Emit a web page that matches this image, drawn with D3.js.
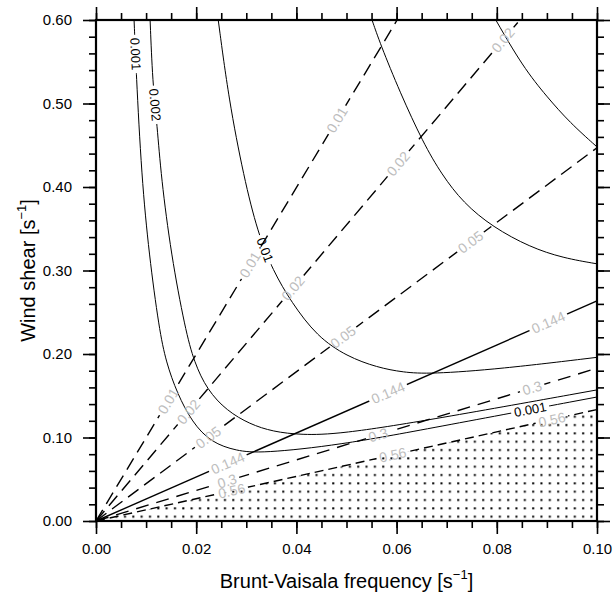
<!DOCTYPE html>
<html>
<head>
<meta charset="utf-8">
<script src="https://cdn.jsdelivr.net/npm/d3@7"></script>
<style>
  body { margin: 0; background: #fff; }
  svg { font-family: "Liberation Sans", Arial, Helvetica, sans-serif; }
</style>
</head>
<body>
<div id="chart"></div>
<script>
// axis ticks
const xTicks = [0, 0.02, 0.04, 0.06, 0.08, 0.10];
const yTicks = [0, 0.1, 0.2, 0.3, 0.4, 0.5, 0.6];

// Richardson number lines from the origin (N, S end points)
const riLevels = ['0.01', '0.02', '0.05', '0.144', '0.3', '0.56'];
const riEndN = [0.0601, 0.0846, 0.1, 0.1, 0.1, 0.1];
const riEndS = [0.6, 0.6, 0.447, 0.2635, 0.183, 0.1335];
const riLabelN = [
  [0.0144, 0.0307, 0.0481],
  [0.0184, 0.0393, 0.0603, 0.0812],
  [0.0224, 0.0493, 0.0747],
  [0.0263, 0.0583, 0.0902],
  [0.0261, 0.0563, 0.0870],
  [0.0271, 0.0593, 0.0910]
];

// solid contours, [N, S]
const curve001 = [[0.0076, 0.600], [0.0080, 0.540], [0.0091, 0.412], [0.0106, 0.319], [0.0126, 0.230],
  [0.0140, 0.190], [0.0162, 0.153], [0.0192, 0.118], [0.0230, 0.094], [0.0280, 0.084], [0.0330, 0.081],
  [0.0487, 0.091], [0.0667, 0.111], [0.1000, 0.1485]];
const curve002 = [[0.0108, 0.600], [0.0113, 0.525], [0.0122, 0.474], [0.0130, 0.412], [0.0150, 0.319],
  [0.0178, 0.230], [0.0196, 0.190], [0.0222, 0.157], [0.0261, 0.132], [0.0307, 0.116], [0.0353, 0.107],
  [0.0410, 0.103], [0.0487, 0.104], [0.0667, 0.121], [0.1000, 0.157]];
const curve01 = [[0.0244, 0.600], [0.0265, 0.505], [0.0295, 0.412], [0.0323, 0.345], [0.0353, 0.300],
  [0.0390, 0.262], [0.0441, 0.221], [0.0501, 0.197], [0.0561, 0.184], [0.0613, 0.178], [0.0667, 0.176],
  [0.0806, 0.182], [0.1000, 0.196]];
const curveD = [[0.0551, 0.600], [0.0567, 0.572], [0.0607, 0.513], [0.0653, 0.453], [0.0690, 0.415],
  [0.0733, 0.381], [0.0792, 0.352], [0.0866, 0.328], [0.0932, 0.315], [0.1000, 0.308]];
const curveE = [[0.0798, 0.600], [0.0852, 0.544], [0.0900, 0.508], [0.0946, 0.477], [0.1000, 0.448]];

const contours = [curve001, curve002, curve01, curveD, curveE];
const contourLabelText = ['0.001', '0.001', '0.002', '0.01'];
const contourLabelCurve = [0, 0, 1, 2];
const contourLabelAt = [[0.0076, 0.559], [0.0866, 0.134], [0.0116, 0.498], [0.0335, 0.3245]];

const width = 613, height = 596;
const margin = { top: 20, right: 16, bottom: 75, left: 96 };

const x = d3.scaleLinear().domain([0, 0.1]).range([margin.left, width - margin.right]);
const y = d3.scaleLinear().domain([0, 0.6]).range([height - margin.bottom, margin.top]);

const svg = d3.select('#chart').append('svg').attr('width', width).attr('height', height);
const defs = svg.append('defs');

const pat = defs.append('pattern').attr('id', 'dots').attr('patternUnits', 'userSpaceOnUse')
  .attr('width', 8.33).attr('height', 8.33).attr('x', x(0)).attr('y', y(0));
pat.append('rect').attr('x', 3).attr('y', 3).attr('width', 2).attr('height', 2).attr('fill', '#000');

// stippled area under the last Ri line
const last = riLevels.length - 1;
svg.append('path')
  .attr('d', d3.line()([[x(0), y(0)], [x(riEndN[last]), y(riEndS[last])], [x(0.1), y(0)]]))
  .attr('fill', 'url(#dots)');

const plot = svg.append('g');

// label + line-gap helper
function addLabels(pathNode, id, items, color, size) {
  const len = pathNode.getTotalLength();
  const samples = d3.range(0, len, 1).map((l) => ({ l, p: pathNode.getPointAtLength(l) }));
  const mask = defs.append('mask').attr('id', id).attr('maskUnits', 'userSpaceOnUse')
    .attr('x', 0).attr('y', 0).attr('width', width).attr('height', height);
  mask.append('rect').attr('width', width).attr('height', height).attr('fill', '#fff');
  items.forEach((it) => {
    const px = x(it.at[0]), py = y(it.at[1]);
    const best = samples.reduce((a, b) => (Math.hypot(b.p.x - px, b.p.y - py) < Math.hypot(a.p.x - px, a.p.y - py) ? b : a));
    const p0 = pathNode.getPointAtLength(Math.max(0, best.l - 6));
    const p1 = pathNode.getPointAtLength(Math.min(len, best.l + 6));
    let ang = Math.atan2(p1.y - p0.y, p1.x - p0.x) * 180 / Math.PI;
    if (ang > 90) ang -= 180;
    if (ang < -90) ang += 180;
    const t = svg.append('text')
      .attr('transform', `translate(${best.p.x},${best.p.y}) rotate(${ang})`)
      .attr('text-anchor', 'middle').attr('dominant-baseline', 'central')
      .attr('font-size', size).attr('fill', color).text(it.text);
    const w = t.node().getComputedTextLength() + 6;
    mask.append('rect')
      .attr('transform', `translate(${best.p.x},${best.p.y}) rotate(${ang})`)
      .attr('x', -w / 2).attr('y', -size / 2 - 1).attr('width', w).attr('height', size + 2)
      .attr('fill', '#000');
  });
}

// Ri lines
const riDash = { '0.01': '13,7', '0.02': '13,7', '0.05': '13,7', '0.144': null, '0.3': '13,8', '0.56': '9,5' };
riLevels.forEach((lev, i) => {
  const p = plot.append('path')
    .attr('d', d3.line()([[x(0), y(0)], [x(riEndN[i]), y(riEndS[i])]]))
    .attr('fill', 'none').attr('stroke', '#000').attr('stroke-width', 1.4)
    .attr('stroke-dasharray', riDash[lev]);
  const k = riEndS[i] / riEndN[i];
  addLabels(p.node(), `ri-${i}`, riLabelN[i].map((n) => ({ text: lev, at: [n, n * k] })), '#bdbdbd', 14);
  p.attr('mask', `url(#ri-${i})`);
});

// solid contours
const line = d3.line().x((d) => x(d[0])).y((d) => y(d[1])).curve(d3.curveBasis);
contours.forEach((c, i) => {
  const p = plot.append('path').attr('d', line(c))
    .attr('fill', 'none').attr('stroke', '#000').attr('stroke-width', 1);
  const items = contourLabelText
    .map((t, j) => ({ text: t, at: contourLabelAt[j], c: contourLabelCurve[j] }))
    .filter((d) => d.c === i);
  if (items.length) {
    addLabels(p.node(), `ct-${i}`, items, '#000', 13);
    p.attr('mask', `url(#ct-${i})`);
  }
});

// axes
const fmt = d3.format('.2f');
const minorX = d3.range(0, 0.1001, 0.005);
const minorY = d3.range(0, 0.6001, 0.02);
function axes(g) {
  g.selectAll('.domain').remove();
  g.selectAll('line').attr('stroke', '#000').attr('stroke-width', 1.6);
}
svg.append('g').attr('transform', `translate(0,${y(0)})`)
  .call(d3.axisBottom(x).tickValues(minorX).tickSize(7).tickFormat('')).call(axes);
svg.append('g').attr('transform', `translate(0,${y(0)})`)
  .call(d3.axisBottom(x).tickValues(xTicks).tickSize(13).tickPadding(9).tickFormat(fmt)).call(axes);
svg.append('g').attr('transform', `translate(0,${y(0.6)})`)
  .call(d3.axisTop(x).tickValues(minorX).tickSize(7).tickFormat('')).call(axes);
svg.append('g').attr('transform', `translate(0,${y(0.6)})`)
  .call(d3.axisTop(x).tickValues(xTicks).tickSize(13).tickFormat('')).call(axes);
svg.append('g').attr('transform', `translate(${x(0)},0)`)
  .call(d3.axisLeft(y).tickValues(minorY).tickSize(7).tickFormat('')).call(axes);
svg.append('g').attr('transform', `translate(${x(0)},0)`)
  .call(d3.axisLeft(y).tickValues(yTicks).tickSize(13).tickPadding(11).tickFormat(fmt)).call(axes);
svg.append('g').attr('transform', `translate(${x(0.1)},0)`)
  .call(d3.axisRight(y).tickValues(minorY).tickSize(7).tickFormat('')).call(axes);
svg.append('g').attr('transform', `translate(${x(0.1)},0)`)
  .call(d3.axisRight(y).tickValues(yTicks).tickSize(13).tickFormat('')).call(axes);
svg.selectAll('.tick text').attr('font-size', 15).attr('fill', '#000')
  .attr('font-family', '"Liberation Sans", Arial, sans-serif');

svg.append('rect').attr('x', x(0)).attr('y', y(0.6))
  .attr('width', x(0.1) - x(0)).attr('height', y(0) - y(0.6))
  .attr('fill', 'none').attr('stroke', '#000').attr('stroke-width', 2.2);

// titles
const xt = svg.append('text').attr('x', (x(0) + x(0.1)) / 2).attr('y', 588)
  .attr('text-anchor', 'middle').attr('font-size', 20);
xt.append('tspan').text('Brunt-Vaisala frequency [s');
xt.append('tspan').attr('font-size', 13).attr('dy', -9).text('\u22121');
xt.append('tspan').attr('dy', 9).text(']');

const yt = svg.append('text').attr('transform', `translate(35,${(y(0) + y(0.6)) / 2}) rotate(-90)`)
  .attr('text-anchor', 'middle').attr('font-size', 20);
yt.append('tspan').text('Wind shear [s');
yt.append('tspan').attr('font-size', 13).attr('dy', -9).text('\u22121');
yt.append('tspan').attr('dy', 9).text(']');
</script>
</body>
</html>
